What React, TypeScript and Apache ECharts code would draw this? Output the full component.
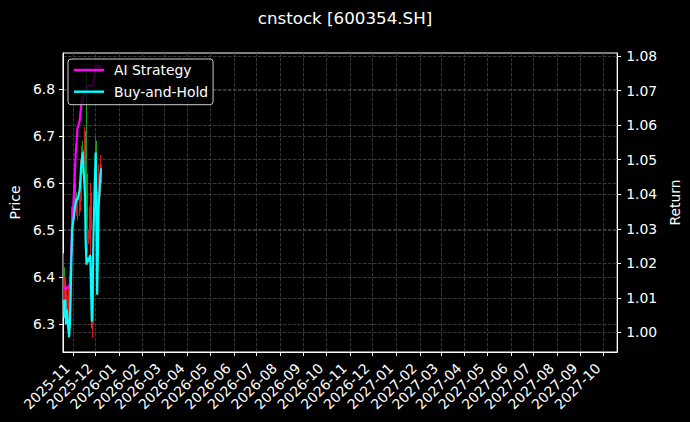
import { useEffect, useRef } from 'react';
import * as echarts from 'echarts';

// trading days shown on the chart
const dates = [
  '2025-10-20', '2025-10-21', '2025-10-22', '2025-10-23', '2025-10-24',
  '2025-10-27', '2025-10-28', '2025-10-29', '2025-10-30', '2025-10-31',
  '2025-11-03', '2025-11-04', '2025-11-05', '2025-11-06', '2025-11-07',
  '2025-11-10', '2025-11-11', '2025-11-12', '2025-11-13', '2025-11-14',
  '2025-11-17', '2025-11-18', '2025-11-19', '2025-11-20', '2025-11-21',
  '2025-11-24', '2025-11-25', '2025-11-26', '2025-11-27', '2025-11-28',
  '2025-12-01', '2025-12-02', '2025-12-03', '2025-12-04', '2025-12-05',
  '2025-12-08',
];

const openPrices = [
  6.42, 6.35, 6.36, 6.37, 6.33, 6.30, 6.34, 6.38, 6.41, 6.45,
  6.53, 6.60, 6.55, 6.57, 6.53, 6.54, 6.56, 6.58, 6.62, 6.67,
  6.66, 6.70, 6.62, 6.56, 6.47, 6.48, 6.50, 6.40, 6.30, 6.33,
  6.62, 6.68, 6.58, 6.50, 6.55, 6.60,
];
const closePrices = [
  6.38, 6.38, 6.39, 6.34, 6.36, 6.37, 6.39, 6.41, 6.46, 6.53,
  6.60, 6.57, 6.57, 6.55, 6.56, 6.56, 6.60, 6.64, 6.67, 6.64,
  6.71, 6.62, 6.56, 6.50, 6.50, 6.55, 6.58, 6.31, 6.33, 6.45,
  6.68, 6.61, 6.50, 6.56, 6.62, 6.64,
];
const lowPrices = [
  6.36, 6.33, 6.34, 6.32, 6.31, 6.29, 6.33, 6.36, 6.40, 6.44,
  6.52, 6.55, 6.54, 6.53, 6.52, 6.53, 6.55, 6.56, 6.60, 6.62,
  6.64, 6.60, 6.52, 6.47, 6.45, 6.46, 6.44, 6.29, 6.27, 6.32,
  6.60, 6.58, 6.48, 6.49, 6.54, 6.57,
];
const highPrices = [
  6.45, 6.40, 6.40, 6.39, 6.38, 6.38, 6.40, 6.42, 6.48, 6.55,
  6.63, 6.61, 6.58, 6.58, 6.57, 6.58, 6.61, 6.65, 6.68, 6.69,
  6.72, 6.71, 6.85, 6.59, 6.52, 6.58, 6.60, 6.42, 6.35, 6.47,
  6.70, 6.69, 6.60, 6.58, 6.64, 6.66,
];

const aiReturn = [
  1.0132, 1.0127, 1.0132, 1.0124, 1.0129, 1.0132, 1.0141, 1.0181, 1.0239, 1.0311,
  1.0426, 1.0483, 1.0527, 1.0555, 1.0590, 1.0613, 1.0636, 1.0656, 1.0670, 1.0682,
  1.0694, 1.0699, 1.0705, 1.0711, 1.0714, 1.0714, 1.0714, 1.0714, 1.0714, 1.0714,
  1.0771, 1.0771, 1.0771, 1.0771, 1.0771, 1.0771,
];
const bhReturn = [
  1.0095, 1.0043, 1.0095, 1.0023, 1.0066, 0.9986, 1.0023, 1.0095, 1.0204, 1.0296,
  1.0348, 1.0365, 1.0377, 1.0388, 1.0383, 1.0412, 1.0446, 1.0483, 1.0504, 1.0521,
  1.0397, 1.0253, 1.0196, 1.0216, 1.0204, 1.0224, 1.0124, 1.0032, 1.0095, 1.0268,
  1.0521, 1.0354, 1.0109, 1.0239, 1.0368, 1.0475,
];

const priceTicks = [6.3, 6.4, 6.5, 6.6, 6.7, 6.8];
const returnTicks = [1.0, 1.01, 1.02, 1.03, 1.04, 1.05, 1.06, 1.07, 1.08];
const monthTicks = [
  '2025-11', '2025-12', '2026-01', '2026-02', '2026-03', '2026-04', '2026-05', '2026-06',
  '2026-07', '2026-08', '2026-09', '2026-10', '2026-11', '2026-12', '2027-01', '2027-02',
  '2027-03', '2027-04', '2027-05', '2027-06', '2027-07', '2027-08', '2027-09', '2027-10',
];

const toTs = (s: string) => {
  const [y, m, d] = s.split('-').map(Number);
  return new Date(y, m - 1, d || 1).getTime();
};
const fmtMonth = (v: number) => {
  const d = new Date(v);
  return `${d.getFullYear()}-${String(d.getMonth() + 1).padStart(2, '0')}`;
};

const FONT = 'DejaVu Sans';
const grid = { color: '#444', width: 0.8, type: [3.5, 1.5] as number[] };

export default function App() {
  const ref = useRef<HTMLDivElement>(null);

  useEffect(() => {
    const chart = echarts.init(ref.current!, null, { renderer: 'svg' });
    const tickVals = monthTicks.map(toTs);

    chart.setOption({
      animation: false,
      backgroundColor: '#000',
      textStyle: { fontFamily: FONT },
      title: {
        text: 'cnstock [600354.SH]',
        left: 'center',
        top: 9,
        padding: 0,
        textStyle: { color: '#fff', fontSize: 16.7, fontWeight: 'normal', fontFamily: FONT },
      },
      legend: {
        data: ['AI Strategy', 'Buy-and-Hold'],
        orient: 'vertical',
        left: 68,
        top: 59,
        padding: [3, 5, 5, 6],
        itemGap: 5.7,
        itemWidth: 30,
        itemHeight: 2.4,
        icon: 'rect',
        backgroundColor: 'rgba(0,0,0,0.8)',
        borderColor: '#cccccc',
        borderWidth: 1,
        borderRadius: 3,
        textStyle: { color: '#fff', fontSize: 13.9, fontFamily: FONT, lineHeight: 16, padding: [0, 0, 0, 5] },
      },
      grid: { left: 61, right: 70, top: 53, bottom: 70, containLabel: false, show: true, borderColor: '#fff', borderWidth: 1 },
      xAxis: {
        type: 'value',
        min: toTs('2025-10-19'),
        max: toTs('2027-10-19'),
        axisLine: { show: true, lineStyle: { color: '#fff', width: 1 } },
        axisTick: { show: true, length: 4, lineStyle: { color: '#fff' }, customValues: tickVals },
        axisLabel: {
          customValues: tickVals,
          formatter: (v: number) => fmtMonth(v),
          rotate: 45,
          color: '#fff',
          fontSize: 13.9,
          fontFamily: FONT,
          margin: 8,
          padding: [0, 8, 0, 0],
        },
        splitLine: { show: true, lineStyle: grid },
      },
      yAxis: [
        {
          type: 'value',
          min: 6.2398,
          max: 6.8772,
          name: 'Price',
          nameLocation: 'middle',
          nameRotate: 90,
          nameGap: 37,
          nameTextStyle: { color: '#fff', fontSize: 13.9, fontFamily: FONT },
          axisLine: { show: true, lineStyle: { color: '#fff' } },
          axisTick: { show: true, length: 4, lineStyle: { color: '#fff' }, customValues: priceTicks },
          axisLabel: {
            customValues: priceTicks,
            formatter: (v: number) => v.toFixed(1),
            color: '#fff',
            fontSize: 13.9,
            fontFamily: FONT,
            margin: 8,
          },
          splitLine: { show: true, lineStyle: grid },
        },
        {
          type: 'value',
          position: 'right',
          min: 0.99434,
          max: 1.08087,
          name: 'Return',
          nameLocation: 'middle',
          nameRotate: 90,
          nameGap: 42,
          nameTextStyle: { color: '#fff', fontSize: 13.9, fontFamily: FONT },
          axisLine: { show: true, lineStyle: { color: '#fff' } },
          axisTick: { show: true, length: 4, lineStyle: { color: '#fff' }, customValues: returnTicks },
          axisLabel: {
            customValues: returnTicks,
            formatter: (v: number) => v.toFixed(2),
            color: '#fff',
            fontSize: 13.9,
            fontFamily: FONT,
            margin: 9,
          },
          splitLine: { show: true, lineStyle: grid },
        },
      ],
      series: [
        {
          type: 'candlestick',
          xAxisIndex: 0,
          yAxisIndex: 0,
          barMaxWidth: 1.6,
          encode: { x: 0, y: [1, 2, 3, 4] },
          data: dates.map((d, i) => [toTs(d), openPrices[i], closePrices[i], lowPrices[i], highPrices[i]]),
          itemStyle: {
            color: '#e0141c',
            color0: '#14a01e',
            borderColor: '#e0141c',
            borderColor0: '#14a01e',
            borderWidth: 1,
          },
        },
        {
          type: 'line',
          name: 'AI Strategy',
          yAxisIndex: 1,
          showSymbol: false,
          symbol: 'none',
          data: dates.map((d, i) => [toTs(d), aiReturn[i]]),
          lineStyle: { color: '#ff00ff', width: 2.2 },
          itemStyle: { color: '#ff00ff' },
        },
        {
          type: 'line',
          name: 'Buy-and-Hold',
          yAxisIndex: 1,
          showSymbol: false,
          symbol: 'none',
          data: dates.map((d, i) => [toTs(d), bhReturn[i]]),
          lineStyle: { color: '#00ffff', width: 2.2 },
          itemStyle: { color: '#00ffff' },
        },
      ],
    } as echarts.EChartsOption);

    return () => chart.dispose();
  }, []);

  return (
    <div
      ref={ref}
      style={{ position: 'fixed', left: 0, top: 0, width: 690, height: 422, background: '#000' }}
    />
  );
}
